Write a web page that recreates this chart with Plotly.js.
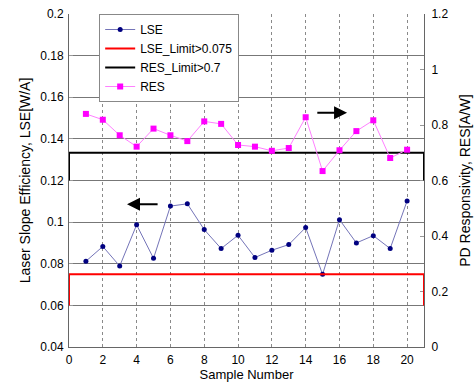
<!DOCTYPE html>
<html><head><meta charset="utf-8">
<script src="https://cdn.plot.ly/plotly-3.0.1.min.js"></script>
<style>html,body{margin:0;padding:0;background:#fff}#chart{width:475px;height:384px}</style>
</head><body><div id="chart"></div>
<script>
const samples = [1,2,3,4,5,6,7,8,9,10,11,12,13,14,15,16,17,18,19,20];
const lse = [0.0812,0.0883,0.0789,0.0987,0.0826,0.1077,0.1088,0.0964,0.0873,0.0937,0.0830,0.0865,0.0892,0.0974,0.0749,0.1012,0.0900,0.0935,0.0873,0.1102];
const res = [0.840,0.819,0.763,0.722,0.787,0.763,0.742,0.813,0.804,0.728,0.722,0.707,0.717,0.828,0.634,0.709,0.778,0.817,0.681,0.711];
const lseLimitX = [0,0,21,21];
const lseLimitY = [0.06,0.075,0.075,0.06];
const resLimitX = [0,0,21,21];
const resLimitY = [0.6,0.7,0.7,0.6];
const leftTicks = [0.04,0.06,0.08,0.1,0.12,0.14,0.16,0.18,0.2];
const rightTicks = [0,0.2,0.4,0.6,0.8,1,1.2];
const xTicks = [0,2,4,6,8,10,12,14,16,18,20];

const font = {family:'Liberation Sans, Arial, sans-serif', size:12, color:'#000'};
const traces = [
  {x:samples, y:lse, name:'LSE', type:'scatter', mode:'lines+markers', yaxis:'y',
   line:{color:'#7474b8', width:1}, marker:{color:'#000080', size:5, symbol:'circle'}},
  {x:lseLimitX, y:lseLimitY, name:'LSE_Limit>0.075', type:'scatter', mode:'lines', yaxis:'y',
   cliponaxis:false, line:{color:'#ff0000', width:2}},
  {x:resLimitX, y:resLimitY, name:'RES_Limit>0.7', type:'scatter', mode:'lines', yaxis:'y2',
   cliponaxis:false, line:{color:'#000000', width:2}},
  {x:samples, y:res, name:'RES', type:'scatter', mode:'lines+markers', yaxis:'y2',
   line:{color:'#ff80ff', width:1}, marker:{color:'#ff00ff', size:6, symbol:'square'}}
];
const layout = {
  width:475, height:384,
  margin:{l:69, r:51, t:14, b:37},
  paper_bgcolor:'#fff', plot_bgcolor:'#fff',
  font:font,
  showlegend:true,
  legend:{x:0.085, y:1, xanchor:'left', yanchor:'top', bgcolor:'#fff', bordercolor:'#888', borderwidth:1,
          font:{family:font.family, size:12, color:'#000'}, tracegroupgap:0, itemwidth:30},
  xaxis:{range:[0,21], tickvals:xTicks, ticktext:xTicks.map(String), showgrid:true, gridcolor:'#8a8a8a',
         griddash:'dot', gridwidth:1, zeroline:false, showline:true, linecolor:'#666', mirror:false,
         ticks:'', tickfont:{family:font.family,size:12}, automargin:false, ticklabelstandoff:2,
         layer:'below traces',
         title:{text:'Sample Number', font:{family:font.family,size:13}, standoff:3}},
  yaxis:{range:[0.04,0.2], tickvals:leftTicks, showgrid:true, gridcolor:'#777', gridwidth:1, zeroline:false,
         showline:true, linecolor:'#666', mirror:true, ticks:'inside', ticklen:4, tickcolor:'#999',
         tickfont:{family:font.family,size:12}, automargin:false, ticklabelstandoff:2,
         layer:'below traces',
         title:{text:'Laser Slope Efficiency, LSE[W/A]', font:{family:font.family,size:14}, standoff:6}},
  yaxis2:{range:[0,1.2], tickvals:rightTicks, overlaying:'y', side:'right', showgrid:false, zeroline:false,
          showline:true, linecolor:'#666', ticks:'inside', ticklen:4, tickcolor:'#999',
          tickfont:{family:font.family,size:12}, automargin:false, ticklabelstandoff:4,
          layer:'below traces',
          title:{text:'PD Responsivity, RES[A/W]', font:{family:font.family,size:14}, standoff:12}},
  annotations:[
    {xref:'x', yref:'y', x:3.43, y:0.1086, axref:'x', ayref:'y', ax:5.33, ay:0.1086, text:'',
     showarrow:true, arrowhead:2, arrowsize:1.3, arrowwidth:2, arrowcolor:'#000'},
    {xref:'x', yref:'y2', x:16.45, y:0.844, axref:'x', ayref:'y2', ax:14.6, ay:0.844, text:'',
     showarrow:true, arrowhead:2, arrowsize:1.3, arrowwidth:2, arrowcolor:'#000'}
  ]
};
Plotly.newPlot('chart', traces, layout, {displayModeBar:false, staticPlot:true});
</script></body></html>
